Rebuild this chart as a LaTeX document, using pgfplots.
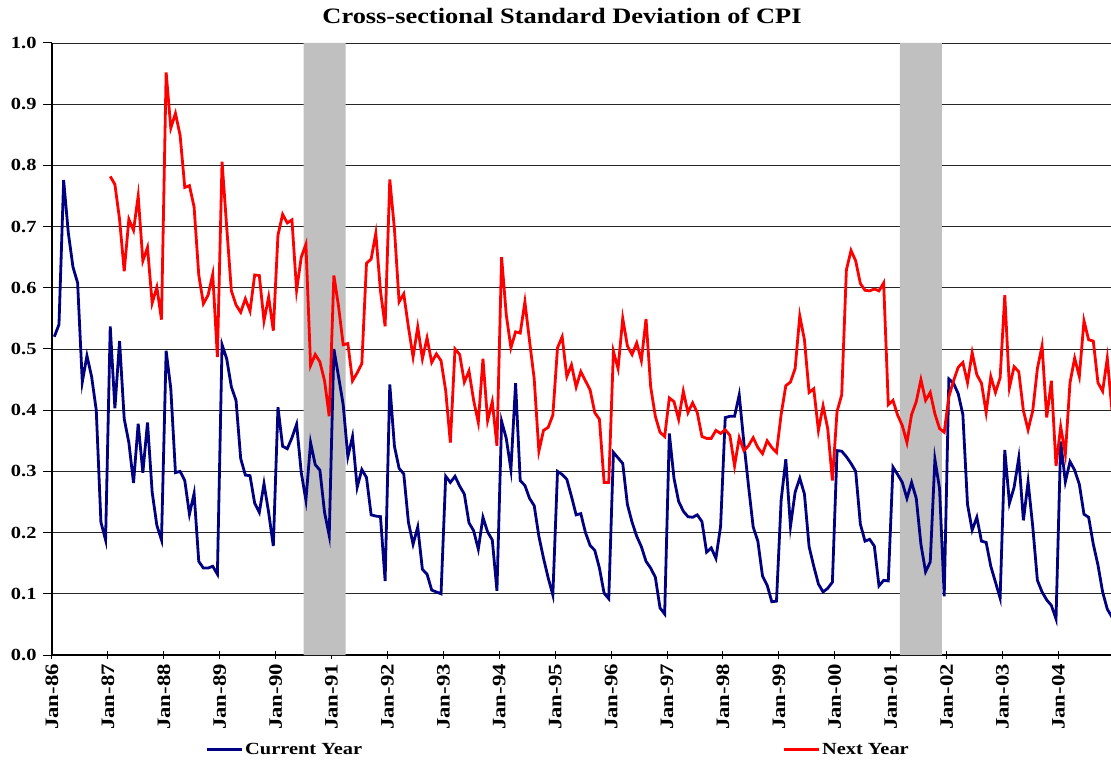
\documentclass[border=0pt]{standalone}
\usepackage{fontspec}
\setmainfont{Liberation Serif}[FakeStretch=1.2]
\usepackage{pgfplots}
\usepackage{pgfplotstable}
\pgfplotsset{compat=1.18}
\definecolor{curblue}{RGB}{0,0,128}
\definecolor{nextred}{RGB}{255,0,0}
\definecolor{recgray}{RGB}{192,192,192}
\newcommand{\fs}[1]{\fontsize{#1bp}{#1bp}\selectfont}

% month index (0 = Jan-86), value
\pgfplotstableread{
m v
0 0.520
1 0.540
2 0.776
3 0.690
4 0.634
5 0.608
6 0.446
7 0.489
8 0.455
9 0.400
10 0.217
11 0.188
12 0.537
13 0.403
14 0.513
15 0.386
16 0.347
17 0.281
18 0.378
19 0.298
20 0.380
21 0.266
22 0.212
23 0.188
24 0.497
25 0.435
26 0.298
27 0.300
28 0.285
29 0.230
30 0.264
31 0.153
32 0.142
33 0.142
34 0.145
35 0.132
36 0.507
37 0.484
38 0.438
39 0.416
40 0.321
41 0.294
42 0.293
43 0.248
44 0.233
45 0.280
46 0.233
47 0.178
48 0.405
49 0.341
50 0.337
51 0.355
52 0.377
53 0.298
54 0.253
55 0.347
56 0.311
57 0.302
58 0.233
59 0.195
60 0.500
61 0.455
62 0.409
63 0.324
64 0.357
65 0.274
66 0.303
67 0.290
68 0.229
69 0.227
70 0.226
71 0.121
72 0.442
73 0.341
74 0.305
75 0.296
76 0.217
77 0.181
78 0.209
79 0.140
80 0.132
81 0.106
82 0.103
83 0.100
84 0.292
85 0.282
86 0.292
87 0.276
88 0.263
89 0.216
90 0.203
91 0.173
92 0.225
93 0.201
94 0.188
95 0.105
96 0.382
97 0.354
98 0.303
99 0.444
100 0.285
101 0.277
102 0.256
103 0.244
104 0.194
105 0.158
106 0.126
107 0.098
108 0.300
109 0.295
110 0.287
111 0.259
112 0.229
113 0.231
114 0.200
115 0.179
116 0.171
117 0.142
118 0.101
119 0.092
120 0.331
121 0.322
122 0.313
123 0.246
124 0.217
125 0.194
126 0.177
127 0.153
128 0.142
129 0.127
130 0.077
131 0.067
132 0.362
133 0.289
134 0.251
135 0.235
136 0.226
137 0.225
138 0.229
139 0.218
140 0.168
141 0.175
142 0.158
143 0.210
144 0.388
145 0.390
146 0.390
147 0.425
148 0.347
149 0.276
150 0.209
151 0.186
152 0.129
153 0.114
154 0.087
155 0.088
156 0.253
157 0.320
158 0.210
159 0.266
160 0.289
161 0.263
162 0.177
163 0.145
164 0.116
165 0.103
166 0.109
167 0.119
168 0.334
169 0.333
170 0.324
171 0.313
172 0.300
173 0.214
174 0.186
175 0.189
176 0.178
177 0.113
178 0.122
179 0.121
180 0.307
181 0.295
182 0.282
183 0.256
184 0.282
185 0.256
186 0.181
187 0.136
188 0.152
189 0.320
190 0.272
191 0.096
192 0.451
193 0.444
194 0.427
195 0.393
196 0.246
197 0.204
198 0.225
199 0.186
200 0.184
201 0.145
202 0.119
203 0.093
204 0.335
205 0.248
206 0.274
207 0.322
208 0.220
209 0.283
210 0.210
211 0.122
212 0.103
213 0.090
214 0.081
215 0.059
216 0.349
217 0.283
218 0.316
219 0.302
220 0.279
221 0.230
222 0.225
223 0.181
224 0.147
225 0.103
226 0.075
227 0.062
}\curyear

\pgfplotstableread{
m v
12 0.782
13 0.769
14 0.712
15 0.627
16 0.712
17 0.694
18 0.750
19 0.644
20 0.666
21 0.575
22 0.601
23 0.548
24 0.952
25 0.861
26 0.885
27 0.849
28 0.764
29 0.767
30 0.732
31 0.621
32 0.574
33 0.588
34 0.622
35 0.487
36 0.806
37 0.699
38 0.595
39 0.572
40 0.560
41 0.582
42 0.562
43 0.621
44 0.620
45 0.546
46 0.585
47 0.530
48 0.686
49 0.720
50 0.706
51 0.711
52 0.596
53 0.650
54 0.671
55 0.473
56 0.491
57 0.479
58 0.448
59 0.390
60 0.620
61 0.570
62 0.507
63 0.509
64 0.448
65 0.461
66 0.476
67 0.640
68 0.647
69 0.689
70 0.595
71 0.537
72 0.777
73 0.696
74 0.577
75 0.590
76 0.536
77 0.487
78 0.536
79 0.484
80 0.518
81 0.478
82 0.492
83 0.481
84 0.432
85 0.347
86 0.500
87 0.491
88 0.446
89 0.464
90 0.416
91 0.380
92 0.484
93 0.383
94 0.414
95 0.342
96 0.650
97 0.556
98 0.502
99 0.528
100 0.526
101 0.577
102 0.513
103 0.451
104 0.333
105 0.367
106 0.372
107 0.392
108 0.502
109 0.520
110 0.455
111 0.474
112 0.438
113 0.463
114 0.448
115 0.433
116 0.396
117 0.385
118 0.282
119 0.282
120 0.496
121 0.468
122 0.550
123 0.505
124 0.491
125 0.510
126 0.481
127 0.549
128 0.438
129 0.390
130 0.364
131 0.357
132 0.420
133 0.414
134 0.385
135 0.431
136 0.396
137 0.412
138 0.396
139 0.357
140 0.354
141 0.354
142 0.367
143 0.362
144 0.368
145 0.359
146 0.309
147 0.355
148 0.334
149 0.342
150 0.355
151 0.339
152 0.329
153 0.350
154 0.339
155 0.331
156 0.393
157 0.440
158 0.446
159 0.468
160 0.554
161 0.515
162 0.429
163 0.435
164 0.367
165 0.407
166 0.370
167 0.285
168 0.398
169 0.425
170 0.629
171 0.661
172 0.644
173 0.607
174 0.596
175 0.595
176 0.598
177 0.595
178 0.608
179 0.409
180 0.416
181 0.392
182 0.375
183 0.347
184 0.393
185 0.414
186 0.450
187 0.416
188 0.429
189 0.394
190 0.370
191 0.364
192 0.422
193 0.448
194 0.470
195 0.478
196 0.445
197 0.494
198 0.458
199 0.444
200 0.396
201 0.455
202 0.429
203 0.453
204 0.588
205 0.437
206 0.471
207 0.463
208 0.399
209 0.368
210 0.399
211 0.468
212 0.505
213 0.388
214 0.448
215 0.309
216 0.373
217 0.328
218 0.445
219 0.485
220 0.455
221 0.546
222 0.515
223 0.513
224 0.445
225 0.431
226 0.485
227 0.400
}\nextyear

\begin{document}
\begin{tikzpicture}
\path[use as bounding box] (-52bp,-110bp) rectangle (1059bp,655bp);
\begin{axis}[
    at={(0,0)}, anchor=south west,
    scale only axis, width=1059bp, height=612bp,
    xmin=0, xmax=227.3, ymin=0, ymax=1,
    axis lines=left,
    axis line style={-, black, line width=1.3bp},
    ytick={0,0.1,0.2,0.3,0.4,0.5,0.6,0.7,0.8,0.9,1.0},
    ymajorgrids, grid style={black!85, line width=0.9bp},
    xtick={0,12,24,36,48,60,72,84,96,108,120,132,144,156,168,180,192,204,216},
    xticklabels={Jan-86,Jan-87,Jan-88,Jan-89,Jan-90,Jan-91,Jan-92,Jan-93,Jan-94,Jan-95,Jan-96,Jan-97,Jan-98,Jan-99,Jan-00,Jan-01,Jan-02,Jan-03,Jan-04},
    xticklabel style={rotate=90, anchor=east, font=\fs{19}\bfseries, xshift=-1bp},
    yticklabel style={font=\fs{17}\bfseries, xshift=-3bp, /pgf/number format/.cd, fixed, fixed zerofill, precision=1, assume math mode=true},
    xtick align=center, ytick align=outside,
    major tick length=9bp,
    tick style={black, line width=1bp},
    legend columns=2,
    legend style={at={(0.1445,-0.155)}, anchor=west, draw=none, fill=none,
        inner sep=0pt, font=\fs{17}\bfseries,
        /tikz/every even column/.append style={column sep=418bp}},
    legend image code/.code={\draw[#1, line width=3bp] (0bp,0bp) -- (35bp,0bp);},
]
% recessions
\addplot[fill=recgray, draw=none, forget plot] coordinates {(54,0) (54,1) (63,1) (63,0)} \closedcycle;
\addplot[fill=recgray, draw=none, forget plot] coordinates {(182,0) (182,1) (191,1) (191,0)} \closedcycle;

\addplot[curblue, line width=2.8bp] table[x expr=\thisrow{m}+0.5, y=v] {\curyear};
\addlegendentry{Current Year}
\addplot[nextred, line width=2.8bp] table[x expr=\thisrow{m}+0.5, y=v] {\nextyear};
\addlegendentry{Next Year}
\end{axis}
\node[font=\fs{22}\bfseries, anchor=base] at (510bp,631bp) {Cross-sectional Standard Deviation of CPI};
\end{tikzpicture}
\end{document}
